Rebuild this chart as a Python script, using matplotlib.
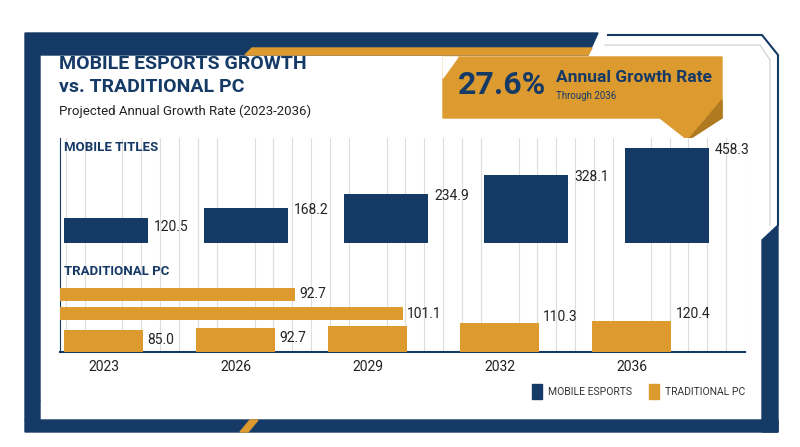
import matplotlib.pyplot as plt
import matplotlib.patches as mpatches
import numpy as np

years = ['2023', '2026', '2029', '2032', '2036']
mobile = [120.5, 168.2, 234.9, 328.1, 458.3]
pc = [85.0, 92.7, 101.1, 110.3, 120.4]
pc_bottom_labels = ['85.0', '92.7', '', '110.3', '120.4']
pc_hbars = [101.1, 92.7]  # lower, upper

NAVY = '#163a66'
GOLD = '#dc9a2f'
W, H = 800, 447
HB0 = 74.4  # origin of the horizontal-bar scale

plt.rcParams['font.family'] = ['Roboto', 'DejaVu Sans']
fig = plt.figure(figsize=(8, 4.47), dpi=100)


def rect(l, t, r, b):
    # pixel box -> figure fraction [left, bottom, width, height]
    return [l / W, 1 - b / H, (r - l) / W, (b - t) / H]


def px(x, y):
    return (x / W, 1 - y / H)


# frame decoration
bg = fig.add_axes([0, 0, 1, 1])
bg.set_xlim(0, W)
bg.set_ylim(H, 0)
bg.axis('off')
bg.add_patch(mpatches.Polygon([(25, 33), (598, 33), (588, 55), (40, 55), (40, 400), (25, 420)], color=NAVY))
bg.add_patch(mpatches.Polygon([(252, 48), (592, 48), (588, 55), (245, 55)], color=GOLD))
bg.add_patch(mpatches.Polygon([(25, 420), (40, 400), (40, 420), (778, 420), (778, 432), (25, 432)], color=NAVY))
bg.add_patch(mpatches.Polygon([(762, 240), (778, 225), (778, 432), (762, 432)], color=NAVY))
bg.add_patch(mpatches.Polygon([(240, 432), (250, 420), (258, 420), (248, 432)], color=GOLD))
bg.plot([608, 762, 778, 778], [35, 35, 55, 225], color=NAVY, lw=1.5)
bg.plot([605, 760, 770, 770], [45, 45, 60, 225], color='#c8ccd3', lw=0.8)

# callout box
bg.add_patch(mpatches.Polygon([(443, 57), (722, 57), (722, 118), (705, 118), (688, 140), (660, 118), (443, 118)], color=GOLD))
bg.add_patch(mpatches.Polygon([(688, 140), (722, 118), (722, 100)], color='#b07a20'))
bg.add_patch(mpatches.Polygon([(443, 57), (458, 57), (443, 78)], color='white'))
fig.text(*px(458, 85), '27.6%', fontsize=23, fontweight='bold', color=NAVY, va='center')
fig.text(*px(556, 77), 'Annual Growth Rate', fontsize=12.5, fontweight='bold', color=NAVY, va='center')
fig.text(*px(556, 96), 'Through 2036', fontsize=7, color=NAVY, va='center')

# titles
fig.text(*px(59, 64), 'MOBILE ESPORTS GROWTH', fontsize=14, fontweight='bold', color=NAVY, va='center')
fig.text(*px(59, 87), 'vs. TRADITIONAL PC', fontsize=14, fontweight='bold', color=NAVY, va='center')
fig.text(*px(59, 111), 'Projected Annual Growth Rate (2023-2036)', fontsize=9.5, color='#222222', va='center')

x = np.arange(len(years))
bw = 0.6
xlim = (-0.33, 4.56)

# main axes: grid, x ticks, PC bottom bars
ax = fig.add_axes(rect(60, 138, 745, 352))
ax.set_xlim(*xlim)
ax.set_ylim(0, 823)
ax.set_xticks(x)
ax.set_xticklabels(years, fontsize=10, color='#222222')
ax.set_xticks(np.arange(-2, 35) / 7, minor=True)
ax.grid(axis='x', which='minor', color='#dddddd', lw=0.8)
ax.tick_params(axis='x', which='both', length=0, pad=6)
ax.set_yticks([])
for s in ['top', 'right']:
    ax.spines[s].set_visible(False)
ax.spines['left'].set_color(NAVY)
ax.spines['bottom'].set_color(NAVY)
ax.spines['bottom'].set_linewidth(1.5)
ax.bar(x, pc, bw, color=GOLD, zorder=3)
for xi, v, lab in zip(x, pc, pc_bottom_labels):
    if lab:
        ax.text(xi + bw / 2 + 0.03, v + (25 if v > 105 else -40), lab, fontsize=10, color='#222222', va='center', zorder=4)
ax.text(-0.3, 785, 'MOBILE TITLES', fontsize=9.5, fontweight='bold', color=NAVY, va='center')
ax.text(-0.3, 308, 'TRADITIONAL PC', fontsize=9.5, fontweight='bold', color=NAVY, va='center')

# mobile bars on their own baseline
axm = fig.add_axes(rect(60, 138, 745, 243))
axm.set_xlim(*xlim)
axm.set_ylim(0, 505)
axm.axis('off')
axm.bar(x, mobile, bw, color=NAVY, zorder=3)
for xi, v in zip(x, mobile):
    axm.text(xi + bw / 2 + 0.04, v - 45 if v < 150 else v - 10, f'{v:.1f}', fontsize=10, color='#222222', va='center')

# horizontal PC bars
axh = fig.add_axes(rect(60, 285, 745, 323))
axh.set_xlim(HB0, HB0 + 685 / 12.86)
axh.set_ylim(-0.5, 1.5)
axh.axis('off')
axh.barh([0, 1], [v - HB0 for v in pc_hbars], 0.68, left=HB0, color=GOLD)
for yi, v in enumerate(pc_hbars):
    axh.text(v + 0.3, yi, f'{v:.1f}', fontsize=10, color='#222222', va='center')

# legend
bg.add_patch(mpatches.Rectangle((532, 384), 10, 15, color=NAVY))
bg.add_patch(mpatches.Rectangle((649, 384), 10, 15, color=GOLD))
fig.text(*px(548, 392), 'MOBILE ESPORTS', fontsize=7.5, color='#333333', va='center')
fig.text(*px(665, 392), 'TRADITIONAL PC', fontsize=7.5, color='#333333', va='center')

plt.savefig('out.png', dpi=100)
